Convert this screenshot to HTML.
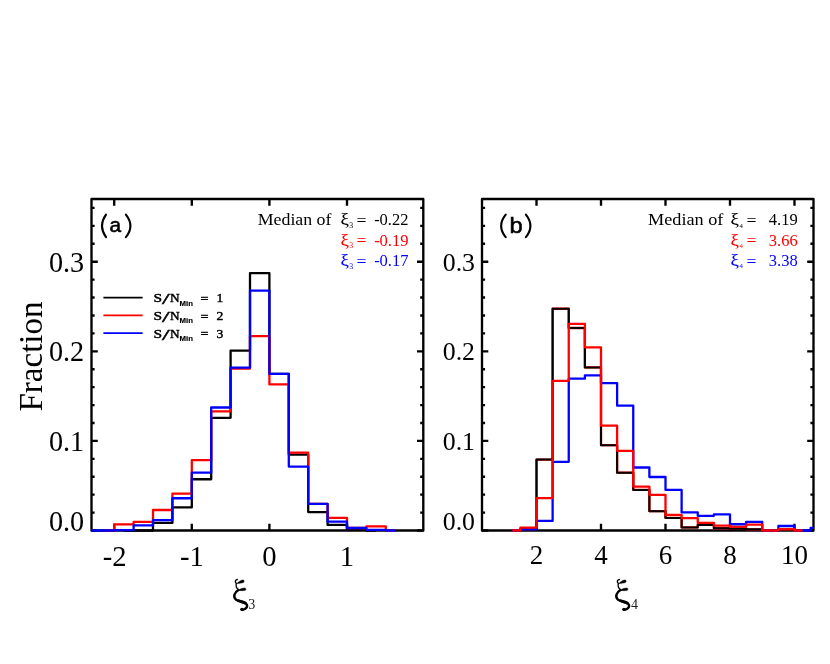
<!DOCTYPE html>
<html><head><meta charset="utf-8"><title>Histogram</title>
<style>
html,body{margin:0;padding:0;background:#fff;}
body{width:830px;height:664px;overflow:hidden;font-family:"Liberation Serif",serif;}
svg{display:block;will-change:transform;}
</style></head><body>
<svg width="830" height="664" viewBox="0 0 830 664">
<defs>
<clipPath id="ca"><rect x="91.20" y="197.82" width="332.40" height="334.15"/></clipPath>
<clipPath id="cb"><rect x="481.70" y="197.82" width="332.10" height="334.15"/></clipPath>
</defs>
<rect width="830" height="664" fill="#ffffff"/>
<g fill="none" stroke="#000" stroke-width="2.35" stroke-linejoin="round">
<rect x="91.50" y="199.00" width="331.80" height="331.50"/>
<rect x="482.00" y="199.00" width="331.50" height="331.50"/>
<path d="M91.50,530.50 h6.30 M423.30,530.50 h-6.30 M91.50,512.58 h3.10 M423.30,512.58 h-3.10 M91.50,494.66 h3.10 M423.30,494.66 h-3.10 M91.50,476.74 h3.10 M423.30,476.74 h-3.10 M91.50,458.82 h3.10 M423.30,458.82 h-3.10 M91.50,440.90 h6.30 M423.30,440.90 h-6.30 M91.50,422.98 h3.10 M423.30,422.98 h-3.10 M91.50,405.06 h3.10 M423.30,405.06 h-3.10 M91.50,387.14 h3.10 M423.30,387.14 h-3.10 M91.50,369.22 h3.10 M423.30,369.22 h-3.10 M91.50,351.30 h6.30 M423.30,351.30 h-6.30 M91.50,333.38 h3.10 M423.30,333.38 h-3.10 M91.50,315.46 h3.10 M423.30,315.46 h-3.10 M91.50,297.54 h3.10 M423.30,297.54 h-3.10 M91.50,279.62 h3.10 M423.30,279.62 h-3.10 M91.50,261.70 h6.30 M423.30,261.70 h-6.30 M91.50,243.78 h3.10 M423.30,243.78 h-3.10 M91.50,225.86 h3.10 M423.30,225.86 h-3.10 M91.50,207.94 h3.10 M423.30,207.94 h-3.10 M114.20,530.50 v-6.80 M114.20,199.00 v6.80 M191.80,530.50 v-6.80 M191.80,199.00 v6.80 M269.40,530.50 v-6.80 M269.40,199.00 v6.80 M347.00,530.50 v-6.80 M347.00,199.00 v6.80"/>
<path d="M482.00,530.50 h6.30 M813.50,530.50 h-6.30 M482.00,512.58 h3.10 M813.50,512.58 h-3.10 M482.00,494.66 h3.10 M813.50,494.66 h-3.10 M482.00,476.74 h3.10 M813.50,476.74 h-3.10 M482.00,458.82 h3.10 M813.50,458.82 h-3.10 M482.00,440.90 h6.30 M813.50,440.90 h-6.30 M482.00,422.98 h3.10 M813.50,422.98 h-3.10 M482.00,405.06 h3.10 M813.50,405.06 h-3.10 M482.00,387.14 h3.10 M813.50,387.14 h-3.10 M482.00,369.22 h3.10 M813.50,369.22 h-3.10 M482.00,351.30 h6.30 M813.50,351.30 h-6.30 M482.00,333.38 h3.10 M813.50,333.38 h-3.10 M482.00,315.46 h3.10 M813.50,315.46 h-3.10 M482.00,297.54 h3.10 M813.50,297.54 h-3.10 M482.00,279.62 h3.10 M813.50,279.62 h-3.10 M482.00,261.70 h6.30 M813.50,261.70 h-6.30 M482.00,243.78 h3.10 M813.50,243.78 h-3.10 M482.00,225.86 h3.10 M813.50,225.86 h-3.10 M482.00,207.94 h3.10 M813.50,207.94 h-3.10 M536.50,530.50 v-6.80 M536.50,199.00 v6.80 M601.00,530.50 v-6.80 M601.00,199.00 v6.80 M665.50,530.50 v-6.80 M665.50,199.00 v6.80 M730.00,530.50 v-6.80 M730.00,199.00 v6.80 M794.50,530.50 v-6.80 M794.50,199.00 v6.80"/>
</g>
<g fill="none" stroke-width="2.30" stroke-linejoin="round" clip-path="url(#ca)">
<path stroke="#000000" d="M123.90,530.50 L133.60,530.50 L133.60,530.50 L153.00,530.50 L153.00,522.88 L172.40,522.88 L172.40,507.47 L191.80,507.47 L191.80,479.25 L211.20,479.25 L211.20,417.87 L230.60,417.87 L230.60,350.58 L250.00,350.58 L250.00,273.17 L269.40,273.17 L269.40,373.97 L288.80,373.97 L288.80,454.70 L308.20,454.70 L308.20,512.04 L327.60,512.04 L327.60,524.94 L347.00,524.94 L347.00,529.60 L366.40,529.60 L366.40,530.50 L376.10,530.50"/>
<path stroke="#ff0000" d="M104.50,530.50 L114.20,530.50 L114.20,524.32 L133.60,524.32 L133.60,521.90 L153.00,521.90 L153.00,509.98 L172.40,509.98 L172.40,493.58 L191.80,493.58 L191.80,460.16 L211.20,460.16 L211.20,411.33 L230.60,411.33 L230.60,368.59 L250.00,368.59 L250.00,336.07 L269.40,336.07 L269.40,384.45 L288.80,384.45 L288.80,452.64 L308.20,452.64 L308.20,503.80 L327.60,503.80 L327.60,517.78 L347.00,517.78 L347.00,527.99 L366.40,527.99 L366.40,526.38 L385.80,526.38 L385.80,530.50 L395.50,530.50"/>
<path stroke="#0000ff" d="M75.40,530.50 L94.80,530.50 L94.80,530.50 L114.20,530.50 L114.20,530.14 L133.60,530.14 L133.60,525.30 L153.00,525.30 L153.00,520.20 L172.40,520.20 L172.40,498.24 L191.80,498.24 L191.80,472.71 L211.20,472.71 L211.20,407.48 L230.60,407.48 L230.60,367.70 L250.00,367.70 L250.00,290.55 L269.40,290.55 L269.40,373.97 L288.80,373.97 L288.80,466.62 L308.20,466.62 L308.20,503.80 L327.60,503.80 L327.60,521.72 L347.00,521.72 L347.00,527.99 L366.40,527.99 L366.40,529.87 L385.80,529.87 L385.80,530.50 L395.50,530.50"/>
</g>
<g fill="none" stroke-width="2.30" stroke-linejoin="round" clip-path="url(#cb)">
<path stroke="#ff0000" d="M512.31,530.50 L520.38,530.50 L520.38,529.16 L536.50,529.16 L536.50,459.54 L552.62,459.54 L552.62,308.74 L568.75,308.74 L568.75,328.00 L584.88,328.00 L584.88,367.43 L601.00,367.43 L601.00,445.20 L617.12,445.20 L617.12,472.71 L633.25,472.71 L633.25,489.91 L649.38,489.91 L649.38,511.15 L665.50,511.15 L665.50,517.96 L681.62,517.96 L681.62,527.45 L697.75,527.45 L697.75,524.86 L713.88,524.86 L713.88,528.26 L730.00,528.26 L730.00,528.71 L746.12,528.71 L746.12,529.34 L762.25,529.34 L762.25,530.50 L770.31,530.50"/>
<path stroke="#000000" stroke-width="2.05" d="M512.31,530.50 L520.38,530.50 L520.38,529.16 L536.50,529.16 L536.50,459.54 L552.62,459.54 L552.62,308.74 L568.75,308.74 L568.75,328.00 L584.88,328.00 L584.88,367.43 L601.00,367.43 L601.00,445.20 L617.12,445.20 L617.12,472.71 L633.25,472.71 L633.25,489.91 L649.38,489.91 L649.38,511.15 L665.50,511.15 L665.50,517.96 L681.62,517.96 L681.62,527.45 L697.75,527.45 L697.75,524.86 L713.88,524.86 L713.88,528.26 L730.00,528.26 L730.00,528.71 L746.12,528.71 L746.12,529.34 L762.25,529.34 L762.25,530.50 L770.31,530.50"/>
<path stroke="#0000ff" d="M512.31,530.50 L520.38,530.50 L520.38,529.34 L536.50,529.34 L536.50,520.91 L552.62,520.91 L552.62,461.78 L568.75,461.78 L568.75,378.63 L584.88,378.63 L584.88,375.31 L601.00,375.31 L601.00,383.11 L617.12,383.11 L617.12,405.69 L633.25,405.69 L633.25,467.51 L649.38,467.51 L649.38,477.01 L665.50,477.01 L665.50,489.91 L681.62,489.91 L681.62,512.40 L697.75,512.40 L697.75,515.81 L713.88,515.81 L713.88,514.46 L730.00,514.46 L730.00,524.23 L746.12,524.23 L746.12,521.90 L762.25,521.90 L762.25,530.50 L778.38,530.50 L778.38,526.02 L794.50,526.02 L794.50,530.50 L810.62,530.50 L810.62,527.90 L826.75,527.90"/>
<path stroke="#ff0000" d="M512.31,530.50 L520.38,530.50 L520.38,527.72 L536.50,527.72 L536.50,498.06 L552.62,498.06 L552.62,380.87 L568.75,380.87 L568.75,323.97 L584.88,323.97 L584.88,347.36 L601.00,347.36 L601.00,425.67 L617.12,425.67 L617.12,450.85 L633.25,450.85 L633.25,486.60 L649.38,486.60 L649.38,494.84 L665.50,494.84 L665.50,514.82 L681.62,514.82 L681.62,518.22 L697.75,518.22 L697.75,522.97 L713.88,522.97 L713.88,525.57 L730.00,525.57 L730.00,526.92 L746.12,526.92 L746.12,524.59 L762.25,524.59 L762.25,530.50 L778.38,530.50 L778.38,529.25 L794.50,529.25 L794.50,530.50 L802.56,530.50"/>
</g>
<g fill="none" stroke-width="1.8">
<path stroke="#000000" d="M103.4,297.6 H142.6"/>
<path stroke="#ff0000" d="M103.4,315.4 H142.6"/>
<path stroke="#0000ff" d="M103.4,333.2 H142.6"/>
</g>
<text transform="translate(84.20,271.80) scale(0.955,1)" font-size="29.50" text-anchor="end" fill="#000" font-family="Liberation Serif, serif">0.3</text>
<text transform="translate(475.00,270.70) scale(1.000,1)" font-size="25.80" text-anchor="end" fill="#000" font-family="Liberation Serif, serif">0.3</text>
<text transform="translate(84.20,361.40) scale(0.955,1)" font-size="29.50" text-anchor="end" fill="#000" font-family="Liberation Serif, serif">0.2</text>
<text transform="translate(475.00,360.30) scale(1.000,1)" font-size="25.80" text-anchor="end" fill="#000" font-family="Liberation Serif, serif">0.2</text>
<text transform="translate(84.20,451.00) scale(0.955,1)" font-size="29.50" text-anchor="end" fill="#000" font-family="Liberation Serif, serif">0.1</text>
<text transform="translate(475.00,449.90) scale(1.000,1)" font-size="25.80" text-anchor="end" fill="#000" font-family="Liberation Serif, serif">0.1</text>
<text transform="translate(84.20,531.10) scale(0.955,1)" font-size="29.50" text-anchor="end" fill="#000" font-family="Liberation Serif, serif">0.0</text>
<text transform="translate(475.00,530.40) scale(1.000,1)" font-size="25.80" text-anchor="end" fill="#000" font-family="Liberation Serif, serif">0.0</text>
<text transform="translate(114.60,566.00) scale(0.970,1)" font-size="29.50" text-anchor="middle" fill="#000" font-family="Liberation Serif, serif">-2</text>
<text transform="translate(191.80,566.00) scale(0.970,1)" font-size="29.50" text-anchor="middle" fill="#000" font-family="Liberation Serif, serif">-1</text>
<text transform="translate(269.40,566.00) scale(0.970,1)" font-size="29.50" text-anchor="middle" fill="#000" font-family="Liberation Serif, serif">0</text>
<text transform="translate(347.00,566.00) scale(0.970,1)" font-size="29.50" text-anchor="middle" fill="#000" font-family="Liberation Serif, serif">1</text>
<text transform="translate(536.50,563.55) scale(1.000,1)" font-size="27.00" text-anchor="middle" fill="#000" font-family="Liberation Serif, serif">2</text>
<text transform="translate(601.00,563.55) scale(1.000,1)" font-size="27.00" text-anchor="middle" fill="#000" font-family="Liberation Serif, serif">4</text>
<text transform="translate(665.50,563.55) scale(1.000,1)" font-size="27.00" text-anchor="middle" fill="#000" font-family="Liberation Serif, serif">6</text>
<text transform="translate(730.00,563.55) scale(1.000,1)" font-size="27.00" text-anchor="middle" fill="#000" font-family="Liberation Serif, serif">8</text>
<text transform="translate(794.50,563.55) scale(1.000,1)" font-size="27.00" text-anchor="middle" fill="#000" font-family="Liberation Serif, serif">10</text>
<text transform="translate(42.2,411.5) rotate(-90)" font-size="33" font-family="Liberation Serif, serif">Fraction</text>
<g transform="translate(220.00,570.00) scale(0.06775)" fill="#000" stroke="#000" stroke-linecap="round" stroke-linejoin="round">
<path d="M256,140 C226,146 214,172 240,196 C232,236 246,272 276,292" fill="none" stroke-width="20"/>
<path d="M272,296 C214,330 186,398 238,438 C290,474 382,468 399,520 C406,566 350,594 318,583" fill="none" stroke-width="36"/>
<path d="M262,446 C300,468 352,470 384,494" fill="none" stroke-width="44" stroke-linecap="butt"/>
<path d="M246,202 C275,172 305,148 338,146 C364,146 362,182 338,188 C306,196 276,198 246,202 Z" stroke-width="6"/>
<path d="M268,302 C300,276 334,264 366,266 C390,268 388,302 362,304 C332,306 300,304 268,302 Z" stroke-width="6"/>
<circle cx="324" cy="580" r="23" stroke-width="0"/>
</g>
<text x="248.30" y="609.4" font-size="14" fill="#222" font-family="Liberation Serif, serif">3</text>
<g transform="translate(602.00,570.00) scale(0.06775)" fill="#000" stroke="#000" stroke-linecap="round" stroke-linejoin="round">
<path d="M256,140 C226,146 214,172 240,196 C232,236 246,272 276,292" fill="none" stroke-width="20"/>
<path d="M272,296 C214,330 186,398 238,438 C290,474 382,468 399,520 C406,566 350,594 318,583" fill="none" stroke-width="36"/>
<path d="M262,446 C300,468 352,470 384,494" fill="none" stroke-width="44" stroke-linecap="butt"/>
<path d="M246,202 C275,172 305,148 338,146 C364,146 362,182 338,188 C306,196 276,198 246,202 Z" stroke-width="6"/>
<path d="M268,302 C300,276 334,264 366,266 C390,268 388,302 362,304 C332,306 300,304 268,302 Z" stroke-width="6"/>
<circle cx="324" cy="580" r="23" stroke-width="0"/>
</g>
<text x="630.90" y="609.4" font-size="14" fill="#222" font-family="Liberation Serif, serif">4</text>
<g fill="none" stroke="#000" stroke-width="2.1" stroke-linecap="round">
<path d="M106.00,214.6 Q98.00,225.9 106.00,237.2"/>
<path d="M125.90,214.6 Q134.90,225.9 125.90,237.2"/>
</g>
<text x="109.60" y="232.20" font-size="20.50" textLength="11.60" lengthAdjust="spacingAndGlyphs" font-family="Liberation Sans, sans-serif" stroke="#000" stroke-width="0.55">a</text>
<g fill="none" stroke="#000" stroke-width="2.1" stroke-linecap="round">
<path d="M505.70,214.6 Q496.60,225.9 505.70,237.2"/>
<path d="M525.90,214.6 Q534.90,225.9 525.90,237.2"/>
</g>
<text x="509.40" y="232.50" font-size="22.00" textLength="13.20" lengthAdjust="spacingAndGlyphs" font-family="Liberation Sans, sans-serif" stroke="#000" stroke-width="0.55">b</text>
<text x="257.70" y="225.3" font-size="16.50" textLength="73.80" lengthAdjust="spacingAndGlyphs" font-family="Liberation Serif, serif">Median of</text>
<text x="340.40" y="225.30" font-size="17.5" fill="#000000" stroke="#000000" stroke-width="0.12" textLength="8.4" lengthAdjust="spacingAndGlyphs" font-family="Liberation Serif, serif">ξ</text>
<text x="349.20" y="227.70" font-size="7.80" fill="#000000" fill-opacity="1" font-family="Liberation Serif, serif">3</text>
<text x="356.40" y="225.90" font-size="16.50" fill="#000000" textLength="10" lengthAdjust="spacingAndGlyphs" font-family="Liberation Serif, serif">=</text>
<text x="408.50" y="225.30" font-size="16.50" fill="#000000" text-anchor="end" font-family="Liberation Serif, serif">-0.22</text>
<text x="340.40" y="245.80" font-size="17.5" fill="#ff0000" stroke="#ff0000" stroke-width="0.12" textLength="8.4" lengthAdjust="spacingAndGlyphs" font-family="Liberation Serif, serif">ξ</text>
<text x="349.20" y="248.20" font-size="7.80" fill="#ff0000" fill-opacity="1" font-family="Liberation Serif, serif">3</text>
<text x="356.40" y="246.40" font-size="16.50" fill="#ff0000" textLength="10" lengthAdjust="spacingAndGlyphs" font-family="Liberation Serif, serif">=</text>
<text x="408.50" y="245.80" font-size="16.50" fill="#ff0000" text-anchor="end" font-family="Liberation Serif, serif">-0.19</text>
<text x="340.40" y="266.20" font-size="17.5" fill="#0000ff" stroke="#0000ff" stroke-width="0.12" textLength="8.4" lengthAdjust="spacingAndGlyphs" font-family="Liberation Serif, serif">ξ</text>
<text x="349.20" y="268.60" font-size="7.80" fill="#0000ff" fill-opacity="1" font-family="Liberation Serif, serif">3</text>
<text x="356.40" y="266.80" font-size="16.50" fill="#0000ff" textLength="10" lengthAdjust="spacingAndGlyphs" font-family="Liberation Serif, serif">=</text>
<text x="408.50" y="266.20" font-size="16.50" fill="#0000ff" text-anchor="end" font-family="Liberation Serif, serif">-0.17</text>
<text x="648.00" y="225.3" font-size="16.50" textLength="75.40" lengthAdjust="spacingAndGlyphs" font-family="Liberation Serif, serif">Median of</text>
<text x="730.60" y="225.30" font-size="17.5" fill="#000000" stroke="#000000" stroke-width="0.12" textLength="8.4" lengthAdjust="spacingAndGlyphs" font-family="Liberation Serif, serif">ξ</text>
<text x="739.60" y="227.50" font-size="6.80" fill="#000000" fill-opacity="1" font-family="Liberation Serif, serif">4</text>
<text x="746.60" y="225.90" font-size="16.50" fill="#000000" textLength="10" lengthAdjust="spacingAndGlyphs" font-family="Liberation Serif, serif">=</text>
<text x="797.65" y="225.30" font-size="16.50" fill="#000000" text-anchor="end" font-family="Liberation Serif, serif">4.19</text>
<text x="730.60" y="245.80" font-size="17.5" fill="#ff0000" stroke="#ff0000" stroke-width="0.12" textLength="8.4" lengthAdjust="spacingAndGlyphs" font-family="Liberation Serif, serif">ξ</text>
<text x="739.60" y="248.00" font-size="6.80" fill="#ff0000" fill-opacity="1" font-family="Liberation Serif, serif">4</text>
<text x="746.60" y="246.40" font-size="16.50" fill="#ff0000" textLength="10" lengthAdjust="spacingAndGlyphs" font-family="Liberation Serif, serif">=</text>
<text x="797.65" y="245.80" font-size="16.50" fill="#ff0000" text-anchor="end" font-family="Liberation Serif, serif">3.66</text>
<text x="730.60" y="266.20" font-size="17.5" fill="#0000ff" stroke="#0000ff" stroke-width="0.12" textLength="8.4" lengthAdjust="spacingAndGlyphs" font-family="Liberation Serif, serif">ξ</text>
<text x="739.60" y="268.40" font-size="6.80" fill="#0000ff" fill-opacity="1" font-family="Liberation Serif, serif">4</text>
<text x="746.60" y="266.80" font-size="16.50" fill="#0000ff" textLength="10" lengthAdjust="spacingAndGlyphs" font-family="Liberation Serif, serif">=</text>
<text x="797.65" y="266.20" font-size="16.50" fill="#0000ff" text-anchor="end" font-family="Liberation Serif, serif">3.38</text>
<text x="153.60" y="302.40" font-size="13.00" textLength="8.60" lengthAdjust="spacingAndGlyphs" stroke="#000" stroke-width="0.45" font-family="Liberation Serif, serif" >S</text>
<text x="162.00" y="304.00" font-size="15.50" textLength="7.60" lengthAdjust="spacingAndGlyphs" stroke="#000" stroke-width="0.45" font-family="Liberation Serif, serif" >/</text>
<text x="170.00" y="302.40" font-size="13.00" textLength="9.60" lengthAdjust="spacingAndGlyphs" stroke="#000" stroke-width="0.45" font-family="Liberation Serif, serif" >N</text>
<text x="179.60" y="305.60" font-size="7.30" textLength="13.40" lengthAdjust="spacingAndGlyphs" stroke="#000" stroke-width="0.15" font-family="Liberation Sans, sans-serif" font-weight="bold">Min</text>
<text x="200.40" y="302.70" font-size="13.00" textLength="8.00" lengthAdjust="spacingAndGlyphs" stroke="#000" stroke-width="0.45" font-family="Liberation Serif, serif" >=</text>
<text x="216.60" y="302.40" font-size="13.00" textLength="6.80" lengthAdjust="spacingAndGlyphs" stroke="#000" stroke-width="0.45" font-family="Liberation Serif, serif" >1</text>
<text x="153.60" y="320.20" font-size="13.00" textLength="8.60" lengthAdjust="spacingAndGlyphs" stroke="#000" stroke-width="0.45" font-family="Liberation Serif, serif" >S</text>
<text x="162.00" y="321.80" font-size="15.50" textLength="7.60" lengthAdjust="spacingAndGlyphs" stroke="#000" stroke-width="0.45" font-family="Liberation Serif, serif" >/</text>
<text x="170.00" y="320.20" font-size="13.00" textLength="9.60" lengthAdjust="spacingAndGlyphs" stroke="#000" stroke-width="0.45" font-family="Liberation Serif, serif" >N</text>
<text x="179.60" y="323.40" font-size="7.30" textLength="13.40" lengthAdjust="spacingAndGlyphs" stroke="#000" stroke-width="0.15" font-family="Liberation Sans, sans-serif" font-weight="bold">Min</text>
<text x="200.40" y="320.50" font-size="13.00" textLength="8.00" lengthAdjust="spacingAndGlyphs" stroke="#000" stroke-width="0.45" font-family="Liberation Serif, serif" >=</text>
<text x="216.60" y="320.20" font-size="13.00" textLength="6.80" lengthAdjust="spacingAndGlyphs" stroke="#000" stroke-width="0.45" font-family="Liberation Serif, serif" >2</text>
<text x="153.60" y="338.00" font-size="13.00" textLength="8.60" lengthAdjust="spacingAndGlyphs" stroke="#000" stroke-width="0.45" font-family="Liberation Serif, serif" >S</text>
<text x="162.00" y="339.60" font-size="15.50" textLength="7.60" lengthAdjust="spacingAndGlyphs" stroke="#000" stroke-width="0.45" font-family="Liberation Serif, serif" >/</text>
<text x="170.00" y="338.00" font-size="13.00" textLength="9.60" lengthAdjust="spacingAndGlyphs" stroke="#000" stroke-width="0.45" font-family="Liberation Serif, serif" >N</text>
<text x="179.60" y="341.20" font-size="7.30" textLength="13.40" lengthAdjust="spacingAndGlyphs" stroke="#000" stroke-width="0.15" font-family="Liberation Sans, sans-serif" font-weight="bold">Min</text>
<text x="200.40" y="338.30" font-size="13.00" textLength="8.00" lengthAdjust="spacingAndGlyphs" stroke="#000" stroke-width="0.45" font-family="Liberation Serif, serif" >=</text>
<text x="216.60" y="338.00" font-size="13.00" textLength="6.80" lengthAdjust="spacingAndGlyphs" stroke="#000" stroke-width="0.45" font-family="Liberation Serif, serif" >3</text>
</svg>
</body></html>
